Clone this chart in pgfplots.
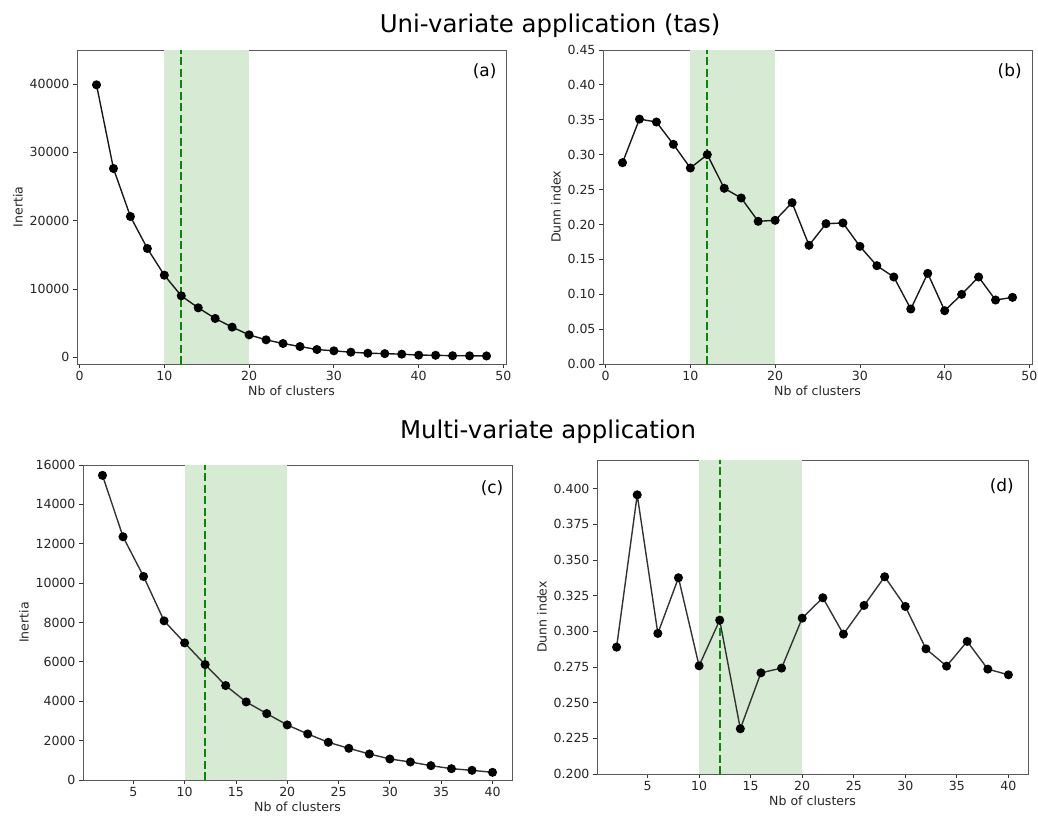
\documentclass[border=0pt]{standalone}
\usepackage{fontspec}
\setmainfont{DejaVu Sans}
\usepackage{pgfplots}
\pgfplotsset{compat=1.18}

\definecolor{bandgreen}{RGB}{214,234,212}
\definecolor{vgreen}{RGB}{10,135,10}
\definecolor{spine}{RGB}{90,90,90}

\pgfplotsset{
  clusterax/.style={
    scale only axis,
    axis line style={draw=spine, line width=0.9bp},
    tick style={draw=black!80, line width=0.8bp},
    tick align=outside,
    major tick length=4bp,
    xtick pos=left, ytick pos=left,
    minor tick num=0,
    scaled ticks=false,
    tick label style={font=\fontsize{12.6}{14}\selectfont, text=black!85},
    label style={font=\fontsize{12.6}{14}\selectfont, text=black!85},
    /pgf/number format/assume math mode=true,
    /pgf/number format/1000 sep={},
    xlabel={Nb of clusters},
    xlabel style={yshift=2bp},
    clip=true,
  },
  band/.style={draw=none, fill=bandgreen},
  vline/.style={vgreen, line width=2.3bp, dash pattern=on 8bp off 3.5bp},
  curve/.style={black!90, line width=1.4bp, mark=*, mark size=3.8bp,
                mark options={fill=black, draw=black}},
}
\tikzset{plabel/.style={font=\fontsize{17}{19}\selectfont, anchor=north east}}

\begin{document}
\begin{tikzpicture}
\useasboundingbox (0bp,0bp) rectangle (1038bp,-818bp);

\node[anchor=base, font=\fontsize{24.5}{28}\selectfont] at (550bp,-32bp) {Uni-variate application (tas)};
\node[anchor=base, font=\fontsize{24.5}{28}\selectfont] at (548bp,-438bp) {Multi-variate application};

% (a)
\begin{axis}[clusterax, at={(77bp,-364bp)}, anchor=south west,
  width=429bp, height=314bp,
  xmin=-0.3, xmax=50.3, ymin=-1000, ymax=45000,
  xtick={0,10,20,30,40,50}, ytick={0,10000,20000,30000,40000},
  ylabel={Inertia}]
\addplot[band] coordinates {(10,-1000) (20,-1000) (20,45000) (10,45000)} -- cycle;
\addplot[vline] coordinates {(12,-1000) (12,45000)};
\addplot[curve] coordinates {
 (2,39900) (4,27640) (6,20610) (8,15920) (10,12010) (12,8990) (14,7230) (16,5670)
 (18,4400) (20,3270) (22,2540) (24,2000) (26,1560) (28,1120) (30,930) (32,730)
 (34,580) (36,520) (38,440) (40,300) (42,280) (44,210) (46,200) (48,180)};
\node[plabel] at (rel axis cs:0.986,0.968) {(a)};
\end{axis}

% (b)
\begin{axis}[clusterax, at={(603bp,-364bp)}, anchor=south west,
  width=429bp, height=314bp,
  xmin=-0.3, xmax=50.3, ymin=0, ymax=0.45,
  xtick={0,10,20,30,40,50},
  ytick={0,0.05,0.1,0.15,0.2,0.25,0.3,0.35,0.4,0.45},
  yticklabel style={/pgf/number format/.cd, fixed, fixed zerofill, precision=2},
  ylabel={Dunn index}]
\addplot[band] coordinates {(10,0) (20,0) (20,0.45) (10,0.45)} -- cycle;
\addplot[vline] coordinates {(12,0) (12,0.45)};
\addplot[curve] coordinates {
 (2,0.2885) (4,0.351) (6,0.3468) (8,0.3148) (10,0.2809) (12,0.300) (14,0.2518)
 (16,0.2379) (18,0.2045) (20,0.2059) (22,0.2312) (24,0.1701) (26,0.2011)
 (28,0.2021) (30,0.1686) (32,0.1409) (34,0.1247) (36,0.0788) (38,0.1299)
 (40,0.0764) (42,0.0998) (44,0.1247) (46,0.0917) (48,0.0955)};
\node[plabel] at (rel axis cs:0.984,0.968) {(b)};
\end{axis}

% (c)
\begin{axis}[clusterax, at={(83bp,-780bp)}, anchor=south west,
  width=429bp, height=315bp,
  xmin=0.1, xmax=41.9, ymin=0, ymax=16000,
  xtick={5,10,15,20,25,30,35,40},
  ytick={0,2000,4000,6000,8000,10000,12000,14000,16000},
  ylabel={Inertia}]
\addplot[band] coordinates {(10,0) (20,0) (20,16000) (10,16000)} -- cycle;
\addplot[vline] coordinates {(12,0) (12,16000)};
\addplot[curve, black!80] coordinates {
 (2,15475) (4,12356) (6,10339) (8,8085) (10,6966) (12,5864) (14,4797) (16,3966)
 (18,3373) (20,2797) (22,2339) (24,1915) (26,1610) (28,1322) (30,1068) (32,915)
 (34,729) (36,576) (38,492) (40,390)};
\node[plabel] at (rel axis cs:0.988,0.962) {(c)};
\end{axis}

% (d)
\begin{axis}[clusterax, at={(597bp,-774bp)}, anchor=south west,
  width=431bp, height=314bp,
  xmin=0.1, xmax=41.9, ymin=0.2, ymax=0.42,
  xtick={5,10,15,20,25,30,35,40},
  ytick={0.2,0.225,0.25,0.275,0.3,0.325,0.35,0.375,0.4},
  yticklabel style={/pgf/number format/.cd, fixed, fixed zerofill, precision=3},
  ylabel={Dunn index}]
\addplot[band] coordinates {(10,0.2) (20,0.2) (20,0.42) (10,0.42)} -- cycle;
\addplot[vline] coordinates {(12,0.2) (12,0.42)};
\addplot[curve, black!80] coordinates {
 (2,0.2889) (4,0.3956) (6,0.2985) (8,0.3375) (10,0.2758) (12,0.3078) (14,0.2317)
 (16,0.2709) (18,0.2742) (20,0.3092) (22,0.3235) (24,0.2980) (26,0.3181)
 (28,0.3382) (30,0.3174) (32,0.2877) (34,0.2756) (36,0.2929) (38,0.2735)
 (40,0.2695)};
\node[plabel] at (rel axis cs:0.975,0.952) {(d)};
\end{axis}
\end{tikzpicture}
\end{document}
